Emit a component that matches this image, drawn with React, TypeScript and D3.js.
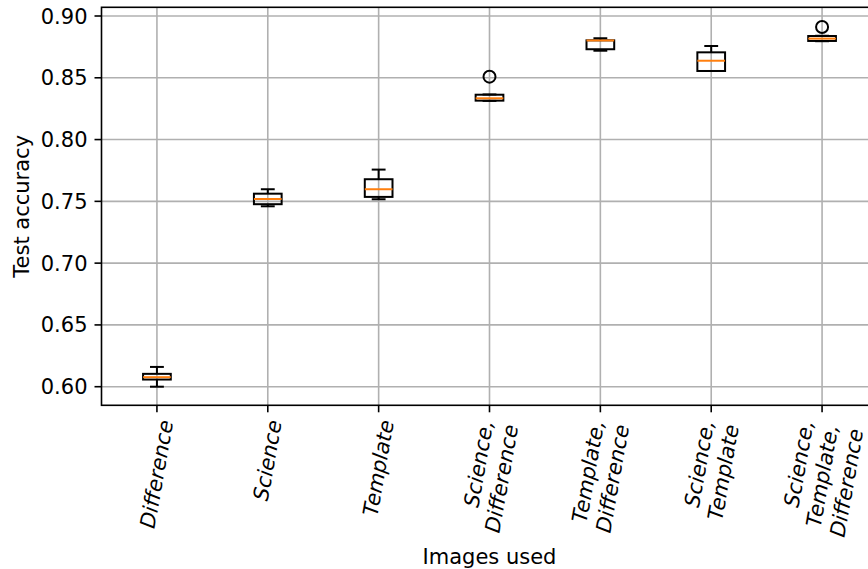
import React, { useEffect, useRef } from 'react';
import * as d3 from 'd3';

// box plot stats
const categories = [
  'Difference',
  'Science',
  'Template',
  'Science,\nDifference',
  'Template,\nDifference',
  'Science,\nTemplate',
  'Science,\nTemplate,\nDifference',
];
const whiskerLow = [0.6, 0.746, 0.7517, 0.8313, 0.8719, 0.8555, 0.8796];
const q1 = [0.6058, 0.7477, 0.7536, 0.8315, 0.8731, 0.8555, 0.8798];
const medians = [0.6077, 0.7519, 0.7598, 0.8334, 0.8802, 0.8638, 0.8817];
const q3 = [0.6104, 0.7562, 0.7679, 0.8363, 0.8803, 0.8706, 0.8838];
const whiskerHigh = [0.616, 0.7598, 0.7757, 0.8365, 0.882, 0.8757, 0.884];
const outliers = [[], [], [], [0.8509], [], [], [0.8911]];
const yTicks = [0.6, 0.65, 0.7, 0.75, 0.8, 0.85, 0.9];

const W = 868;
const H = 569;
const FONT = 'DejaVu Sans, sans-serif';
const FS = 21;

const App = () => {
  const svgRef = useRef(null);

  useEffect(() => {
    if (!svgRef.current) return;
    const svg = d3.select(svgRef.current);
    svg.selectAll('*').remove();

    const x = d3.scaleLinear().domain([0.5, 7.5]).range([101.5, 877.5]);
    const y = d3.scaleLinear().domain([0.58495, 0.90704]).range([405.3, 7.3]);
    const [x0, x1] = x.range();
    const [yb, yt] = y.range();
    const idx = categories.map((_, i) => i + 1);

    // grid
    const grid = svg.append('g').attr('stroke', '#b0b0b0').attr('stroke-width', 1.6);
    grid.selectAll('line.gy').data(yTicks).enter().append('line')
      .attr('x1', x0).attr('x2', x1)
      .attr('y1', d => y(d)).attr('y2', d => y(d));
    grid.selectAll('line.gx').data(idx).enter().append('line')
      .attr('x1', d => x(d)).attr('x2', d => x(d))
      .attr('y1', yt).attr('y2', yb);

    // boxes
    const bw = x(1.25) - x(1);
    const cw = bw / 2;
    const boxes = svg.append('g').selectAll('g').data(idx).enter().append('g');
    boxes.append('line')
      .attr('x1', d => x(d)).attr('x2', d => x(d))
      .attr('y1', (d, i) => y(whiskerLow[i])).attr('y2', (d, i) => y(q1[i]))
      .attr('stroke', 'black').attr('stroke-width', 2);
    boxes.append('line')
      .attr('x1', d => x(d)).attr('x2', d => x(d))
      .attr('y1', (d, i) => y(q3[i])).attr('y2', (d, i) => y(whiskerHigh[i]))
      .attr('stroke', 'black').attr('stroke-width', 2);
    boxes.append('line')
      .attr('x1', d => x(d) - cw / 2).attr('x2', d => x(d) + cw / 2)
      .attr('y1', (d, i) => y(whiskerLow[i])).attr('y2', (d, i) => y(whiskerLow[i]))
      .attr('stroke', 'black').attr('stroke-width', 2);
    boxes.append('line')
      .attr('x1', d => x(d) - cw / 2).attr('x2', d => x(d) + cw / 2)
      .attr('y1', (d, i) => y(whiskerHigh[i])).attr('y2', (d, i) => y(whiskerHigh[i]))
      .attr('stroke', 'black').attr('stroke-width', 2);
    boxes.append('rect')
      .attr('x', d => x(d) - bw / 2).attr('width', bw)
      .attr('y', (d, i) => y(q3[i])).attr('height', (d, i) => y(q1[i]) - y(q3[i]))
      .attr('fill', 'none').attr('stroke', 'black').attr('stroke-width', 2);
    boxes.append('line')
      .attr('x1', d => x(d) - bw / 2).attr('x2', d => x(d) + bw / 2)
      .attr('y1', (d, i) => y(medians[i])).attr('y2', (d, i) => y(medians[i]))
      .attr('stroke', '#ff7f0e').attr('stroke-width', 2);
    boxes.each(function (d, i) {
      d3.select(this).selectAll('circle').data(outliers[i]).enter().append('circle')
        .attr('cx', x(d)).attr('cy', v => y(v)).attr('r', 6)
        .attr('fill', 'none').attr('stroke', 'black').attr('stroke-width', 2);
    });

    // spines
    svg.append('rect')
      .attr('x', x0).attr('y', yt).attr('width', x1 - x0).attr('height', yb - yt)
      .attr('fill', 'none').attr('stroke', 'black').attr('stroke-width', 1.6);

    // y axis
    const ya = svg.append('g');
    ya.selectAll('line').data(yTicks).enter().append('line')
      .attr('x1', x0 - 7).attr('x2', x0)
      .attr('y1', d => y(d)).attr('y2', d => y(d))
      .attr('stroke', 'black').attr('stroke-width', 1.6);
    ya.selectAll('text').data(yTicks).enter().append('text')
      .attr('x', x0 - 14).attr('y', d => y(d))
      .attr('dy', '0.36em')
      .attr('text-anchor', 'end')
      .style('font-family', FONT).style('font-size', FS)
      .text(d => d3.format('.2f')(d));

    // x axis
    const xa = svg.append('g');
    xa.selectAll('line').data(idx).enter().append('line')
      .attr('x1', d => x(d)).attr('x2', d => x(d))
      .attr('y1', yb).attr('y2', yb + 7)
      .attr('stroke', 'black').attr('stroke-width', 1.6);
    idx.forEach((d, i) => {
      const outer = xa.append('g').attr('transform', `translate(${x(d)},${yb + 13})`);
      const inner = outer.append('g');
      const rot = inner.append('g').attr('transform', 'rotate(-80)');
      const t = rot.append('text')
        .attr('text-anchor', 'end')
        .style('font-family', FONT).style('font-size', FS).style('font-style', 'italic');
      categories[i].split('\n').forEach((ln, k) => {
        t.append('tspan').attr('x', 0).attr('dy', k === 0 ? 0 : '1.2em').text(ln);
      });
      const bb = (outer.node() as SVGGElement).getBBox();
      inner.attr('transform', `translate(${-bb.x - bb.width / 2},${-bb.y})`);
    });

    svg.append('text')
      .attr('x', (x0 + x1) / 2).attr('y', 564)
      .attr('text-anchor', 'middle')
      .style('font-family', FONT).style('font-size', FS)
      .text('Images used');
    svg.append('text')
      .attr('transform', `translate(29,${(yt + yb) / 2}) rotate(-90)`)
      .attr('text-anchor', 'middle')
      .style('font-family', FONT).style('font-size', FS)
      .text('Test accuracy');
  }, []);

  return (
    <svg ref={svgRef} width={W} height={H}
      style={{ position: 'absolute', left: 0, top: 0, background: 'white' }} />
  );
};

export default App;
